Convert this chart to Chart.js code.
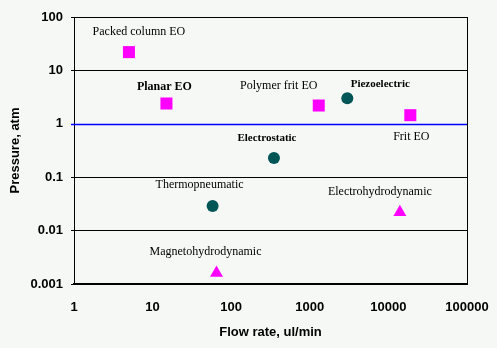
<!DOCTYPE html>
<html>
<head>
<meta charset="utf-8">
<script src="https://cdn.jsdelivr.net/npm/chart.js@4.4.1/dist/chart.umd.min.js"></script>
<style>
  html, body { margin: 0; padding: 0; background: #f6f8f6; }
  #wrap { width: 497px; height: 348px; }
</style>
</head>
<body>
<div id="wrap"><canvas id="c" width="497" height="348"></canvas></div>
<script>
// Micropump performance: maximum pressure vs. flow rate
const pumps     = ['Packed column EO', 'Planar EO', 'Polymer frit EO', 'Frit EO',
                   'Piezoelectric', 'Electrostatic', 'Thermopneumatic',
                   'Magnetohydrodynamic', 'Electrohydrodynamic'];
const flowRate  = [5, 15, 1300, 19000, 3000, 350, 58, 65, 14000];      // ul/min
const pressure  = [22, 2.4, 2.2, 1.45, 3, 0.23, 0.029, 0.0016, 0.022]; // atm
const pumpGroup = ['eo', 'eo', 'eo', 'eo', 'mech', 'mech', 'mech', 'mhd', 'mhd'];

const xTicks = [1, 10, 100, 1000, 10000, 100000];
const yTicks = [0.001, 0.01, 0.1, 1, 10, 100];
const yTickLabels = ['0.001', '0.01', '0.1', '1', '10', '100'];
const referencePressure = 1; // atm, highlighted in blue

// Label placement relative to each marker (pixels) and font weight
const labelStyle = {
  'Packed column EO':    { dx: 10,  dy: -20, font: '12px "Liberation Serif"' },
  'Planar EO':           { dx: -2,  dy: -17, font: 'bold 12px "Liberation Serif"' },
  'Polymer frit EO':     { dx: -40, dy: -20, font: '12px "Liberation Serif"' },
  'Frit EO':             { dx: 1,   dy: 22,  font: '12px "Liberation Serif"' },
  'Piezoelectric':       { dx: 33,  dy: -14, font: 'bold 11px "Liberation Serif"' },
  'Electrostatic':       { dx: -7,  dy: -20, font: 'bold 11px "Liberation Serif"' },
  'Thermopneumatic':     { dx: -13, dy: -21, font: '12px "Liberation Serif"' },
  'Magnetohydrodynamic': { dx: -11, dy: -21, font: '12px "Liberation Serif"' },
  'Electrohydrodynamic': { dx: -20, dy: -20, font: '12px "Liberation Serif"' }
};

function groupData(g) {
  const out = [];
  pumps.forEach((name, i) => {
    if (pumpGroup[i] === g) out.push({ x: flowRate[i], y: pressure[i], name });
  });
  return out;
}

const pointLabels = {
  id: 'pointLabels',
  afterDatasetsDraw(chart) {
    const ctx = chart.ctx;
    ctx.save();
    ctx.fillStyle = '#000';
    ctx.textAlign = 'center';
    ctx.textBaseline = 'middle';
    chart.data.datasets.forEach((ds, di) => {
      const meta = chart.getDatasetMeta(di);
      meta.data.forEach((pt, k) => {
        const name = ds.data[k].name;
        const st = labelStyle[name];
        ctx.font = st.font;
        ctx.fillText(name, pt.x + st.dx, pt.y + st.dy);
      });
    });
    ctx.restore();
  }
};

// Horizontal blue reference line at 1 atm
const referenceLine = {
  id: 'referenceLine',
  beforeDatasetsDraw(chart) {
    const { ctx, chartArea, scales } = chart;
    const y = Math.round(scales.y.getPixelForValue(referencePressure)) + 0.5;
    ctx.save();
    ctx.strokeStyle = '#0000ff';
    ctx.lineWidth = 1.5;
    ctx.beginPath();
    ctx.moveTo(chartArea.left - 3, y);
    ctx.lineTo(chartArea.right, y);
    ctx.stroke();
    ctx.restore();
  }
};

const refIndex = yTicks.indexOf(referencePressure);
const axisFont = { family: '"Liberation Sans", Arial, sans-serif', size: 13, weight: 'bold' };

new Chart(document.getElementById('c'), {
  type: 'scatter',
  data: {
    datasets: [
      { label: 'EO', data: groupData('eo'), pointStyle: 'rect', pointRadius: 8.5,
        backgroundColor: '#ff00ff', borderColor: '#ff00ff', borderWidth: 0 },
      { label: 'Mechanical', data: groupData('mech'), pointStyle: 'circle', pointRadius: 6,
        backgroundColor: '#005656', borderColor: '#005656', borderWidth: 0 },
      { label: 'MHD/EHD', data: groupData('mhd'), pointStyle: 'triangle', pointRadius: 7.5,
        backgroundColor: '#ff00ff', borderColor: '#ff00ff', borderWidth: 0 }
    ]
  },
  options: {
    responsive: false,
    animation: false,
    devicePixelRatio: 1,
    layout: { padding: { left: 0, right: 30, top: 17, bottom: 0 } },
    plugins: { legend: { display: false }, tooltip: { enabled: false } },
    scales: {
      x: {
        type: 'logarithmic',
        min: 1, max: 100000,
        afterBuildTicks(scale) { scale.ticks = xTicks.map(v => ({ value: v })); },
        afterFit(scale) { scale.height = 64; scale.paddingLeft = 0; scale.paddingRight = 0; },
        ticks: { font: axisFont, color: '#000', padding: 16, maxRotation: 0,
                 callback: v => String(v) },
        grid: {
          drawTicks: false,
          color: ctx => (ctx.index === xTicks.length - 1) ? '#000' : 'rgba(0,0,0,0)',
          lineWidth: 1
        },
        border: { display: true, color: '#000', width: 2 },
        title: { display: true, text: 'Flow rate, ul/min', font: axisFont, color: '#000',
                 padding: { top: 0, bottom: 8 } }
      },
      y: {
        type: 'logarithmic',
        min: 0.001, max: 100,
        afterBuildTicks(scale) { scale.ticks = yTicks.map(v => ({ value: v })); },
        afterFit(scale) { scale.width = 74; scale.paddingTop = 0; scale.paddingBottom = 0; },
        ticks: { font: axisFont, color: '#000', padding: 8,
                 callback: (v, i) => yTickLabels[i] },
        grid: {
          drawTicks: true,
          tickLength: 3,
          color: ctx => (ctx.index === refIndex) ? 'rgba(0,0,0,0)' : '#000',
          lineWidth: 1
        },
        border: { display: true, color: '#000', width: 1 },
        title: { display: true, text: 'Pressure, atm', font: axisFont, color: '#000',
                 padding: { top: 8, bottom: 0 } }
      }
    }
  },
  plugins: [referenceLine, pointLabels]
});
</script>
</body>
</html>
